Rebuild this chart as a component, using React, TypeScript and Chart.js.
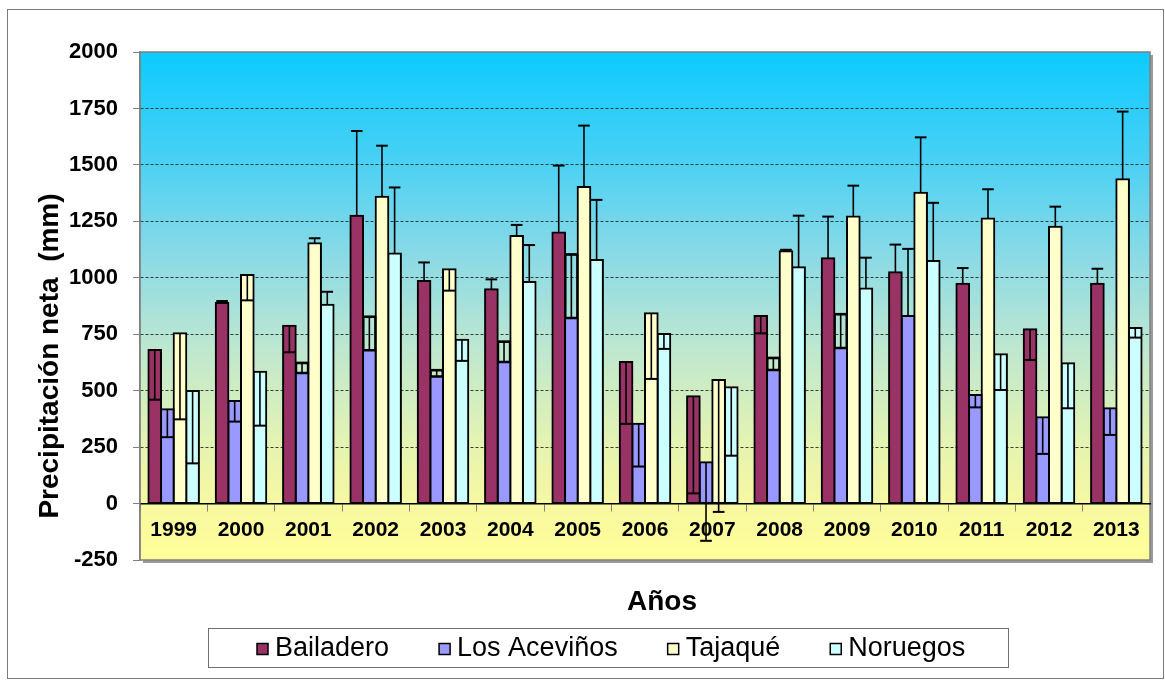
import React, { useEffect, useRef } from "react";
import { Chart, registerables } from "chart.js";

Chart.register(...registerables);

// ---------- data ----------
const years = ["1999", "2000", "2001", "2002", "2003", "2004", "2005", "2006", "2007", "2008", "2009", "2010", "2011", "2012", "2013"];
const seriesNames = ["Bailadero", "Los Aceviños", "Tajaqué", "Noruegos"];
const seriesColors = ["#993366", "#9999FF", "#FFFFCC", "#CCFFFF"];

const bailadero = [680, 888, 788, 1275, 986, 949, 1200, 627, 475, 831, 1086, 1024, 974, 772, 973];
const bailaderoErr = [460, 897, 670, 1650, 1068, 993, 1497, 353, 45, 754, 1271, 1147, 1043, 636, 1040];

const acevinos = [418, 454, 577, 678, 562, 626, 821, 353, 183, 590, 688, 831, 481, 382, 422];
const acevinosErr = [294, 363, 624, 828, 592, 718, 1104, 164, -165, 646, 840, 1128, 426, 220, 304];
// upper outlined (unfilled) box of Los Aceviños, null when absent
const acevinosBoxTop = [null, null, 624, 828, 592, 718, 1104, null, null, 646, 840, null, null, null, null];

const tajaque = [754, 1012, 1153, 1359, 1038, 1185, 1402, 843, 547, 1117, 1271, 1377, 1262, 1226, 1436];
const tajaqueErr = [373, 900, 1175, 1585, 943, 1234, 1674, 552, -37, 1124, 1408, 1622, 1392, 1315, 1736];

const noruegos = [499, 584, 880, 1107, 725, 981, 1079, 751, 515, 1047, 953, 1074, 661, 621, 778];
const noruegosErr = [178, 345, 938, 1400, 632, 1145, 1345, 685, 212, 1275, 1089, 1332, 503, 422, 735];

const yMin = -250;
const yMax = 2000;
const yStep = 250;

const xTitle = "Años";
const yTitle = "Precipitación neta  (mm)";

const FONT = '"Liberation Sans", Arial, Helvetica, sans-serif';

// ---------- plugins ----------
const backgroundPlugin = {
  id: "plotBackground",
  beforeDraw(chart: any) {
    const { ctx, chartArea: a } = chart;
    ctx.save();
    ctx.fillStyle = "#ffffff";
    ctx.fillRect(0, 0, chart.width, chart.height);
    ctx.strokeStyle = "#7a7a7a";
    ctx.lineWidth = 1;
    ctx.strokeRect(7.5, 9.5, chart.width - 9, chart.height - 11);
    // plot-area shadow
    ctx.fillStyle = "#9a9a9a";
    ctx.fillRect(a.right, a.top + 3, 3, a.bottom - a.top);
    ctx.fillRect(a.left + 3, a.bottom, a.right - a.left, 3);
    const g = ctx.createLinearGradient(0, a.top, 0, a.bottom);
    g.addColorStop(0, "#0CCBFF");
    g.addColorStop(0.2, "#45D0F5");
    g.addColorStop(0.4, "#8ADAE6");
    g.addColorStop(0.58, "#BDE7D0");
    g.addColorStop(0.78, "#E6F4B0");
    g.addColorStop(0.9, "#F8F8A0");
    g.addColorStop(1, "#FFFF99");
    ctx.fillStyle = g;
    ctx.fillRect(a.left, a.top, a.right - a.left, a.bottom - a.top);
    ctx.strokeStyle = "#808080";
    ctx.lineWidth = 1.5;
    ctx.strokeRect(a.left, a.top, a.right - a.left, a.bottom - a.top);
    ctx.restore();
  },
};

const errorBarPlugin = {
  id: "errorBars",
  afterDatasetsDraw(chart: any) {
    const { ctx } = chart;
    const yScale = chart.scales.y;
    ctx.save();
    ctx.strokeStyle = "#000000";
    chart.data.datasets.forEach((ds: any, di: number) => {
      if (!ds.errEnd) return;
      const meta = chart.getDatasetMeta(di);
      meta.data.forEach((el: any, i: number) => {
        const v = ds.data[i];
        const e = ds.errEnd[i];
        if (v == null || e == null) return;
        const x = el.x;
        const w = el.width;
        const y0 = yScale.getPixelForValue(v);
        const y1 = yScale.getPixelForValue(e);
        ctx.lineWidth = 1.6;
        ctx.beginPath();
        ctx.moveTo(x, y0);
        ctx.lineTo(x, y1);
        ctx.stroke();
        ctx.lineWidth = 2;
        ctx.beginPath();
        ctx.moveTo(x - w / 2 + 0.5, y1);
        ctx.lineTo(x + w / 2 - 0.5, y1);
        ctx.stroke();
      });
    });
    ctx.restore();
  },
};

const titlesLegendPlugin = {
  id: "titlesLegend",
  afterDraw(chart: any) {
    const { ctx } = chart;
    ctx.save();
    ctx.fillStyle = "#000000";
    // x title
    ctx.font = `bold 28px ${FONT}`;
    ctx.textAlign = "center";
    ctx.textBaseline = "middle";
    ctx.fillText(xTitle, 662, 602);
    // y title
    ctx.save();
    ctx.translate(50, 356);
    ctx.rotate(-Math.PI / 2);
    ctx.fillText(yTitle, 0, 0);
    ctx.restore();
    // legend
    ctx.strokeStyle = "#707070";
    ctx.lineWidth = 1;
    ctx.strokeRect(208.5, 628.5, 800, 39);
    ctx.font = `27px ${FONT}`;
    ctx.textAlign = "left";
    ctx.textBaseline = "middle";
    const items = chart.data.datasets.filter((d: any) => !String(d.label).startsWith("_"));
    let x = 257;
    const y = 649;
    items.forEach((d: any) => {
      ctx.fillStyle = d.backgroundColor;
      ctx.fillRect(x, y - 5.5, 11, 11);
      ctx.strokeStyle = "#000000";
      ctx.lineWidth = 1.5;
      ctx.strokeRect(x, y - 5.5, 11, 11);
      ctx.fillStyle = "#000000";
      ctx.fillText(d.label, x + 18, y);
      x += 18 + ctx.measureText(d.label).width + 50;
    });
    ctx.restore();
  },
};

export default function App() {
  const canvasRef = useRef<HTMLCanvasElement | null>(null);

  useEffect(() => {
    const canvas = canvasRef.current;
    if (!canvas) return;

    const barCommon = {
      borderColor: "#000000",
      borderWidth: 2,
      borderSkipped: false,
      inflateAmount: 1,
      categoryPercentage: 0.75,
      barPercentage: 1.0,
    };

    const datasets: any[] = [
      { ...barCommon, label: seriesNames[0], data: bailadero, errEnd: bailaderoErr, backgroundColor: seriesColors[0], stack: "s0" },
      { ...barCommon, label: seriesNames[1], data: acevinos, errEnd: acevinosErr, backgroundColor: seriesColors[1], stack: "s1" },
      {
        ...barCommon,
        label: "_box",
        data: acevinosBoxTop.map((t, i) => (t == null ? null : t - acevinos[i])),
        backgroundColor: "rgba(0,0,0,0)",
        borderWidth: 0.5,
        inflateAmount: 1,
        stack: "s1",
      },
      { ...barCommon, label: seriesNames[2], data: tajaque, errEnd: tajaqueErr, backgroundColor: seriesColors[2], stack: "s2" },
      { ...barCommon, label: seriesNames[3], data: noruegos, errEnd: noruegosErr, backgroundColor: seriesColors[3], stack: "s3" },
    ];

    const chart = new Chart(canvas, {
      type: "bar",
      data: { labels: years, datasets },
      options: {
        responsive: false,
        animation: false,
        layout: { padding: { left: 0, top: 52, right: 15, bottom: 120 } },
        plugins: {
          legend: { display: false },
          tooltip: { enabled: false },
        },
        scales: {
          x: {
            stacked: true,
            position: { y: 0 } as any,
            offset: true,
            grid: {
              display: true,
              drawOnChartArea: false,
              drawTicks: true,
              tickLength: 7,
              tickColor: "#808080",
              offset: true,
            },
            border: { display: true, color: "#000000", width: 1.5 },
            ticks: {
              color: "#000000",
              font: { family: FONT, size: 21, weight: "bold" },
              padding: 7,
              autoSkip: false,
              maxRotation: 0,
            },
          },
          y: {
            stacked: true,
            min: yMin,
            max: yMax,
            afterFit(scale: any) {
              scale.width = 140;
            },
            ticks: {
              stepSize: yStep,
              color: "#000000",
              font: { family: FONT, size: 22, weight: "bold" },
              padding: 15,
              callback: (v: any) => String(v),
            },
            grid: {
              color: (c: any) => {
                const v = c.tick ? c.tick.value : null;
                return v === yMin || v === yMax || v === 0 ? "rgba(0,0,0,0)" : "rgba(30,30,30,0.85)";
              },
              lineWidth: 1,
              tickLength: 7,
              tickColor: "#808080",
            },
            border: { display: true, color: "#808080", width: 1.5, dash: [3, 2] },
          },
        },
      },
      plugins: [backgroundPlugin, errorBarPlugin, titlesLegendPlugin],
    } as any);

    return () => chart.destroy();
  }, []);

  return (
    <div style={{ position: "fixed", left: 0, top: 0, width: 1165, height: 680, background: "#fff" }}>
      <canvas ref={canvasRef} width={1165} height={680} style={{ width: 1165, height: 680, display: "block" }} />
    </div>
  );
}
